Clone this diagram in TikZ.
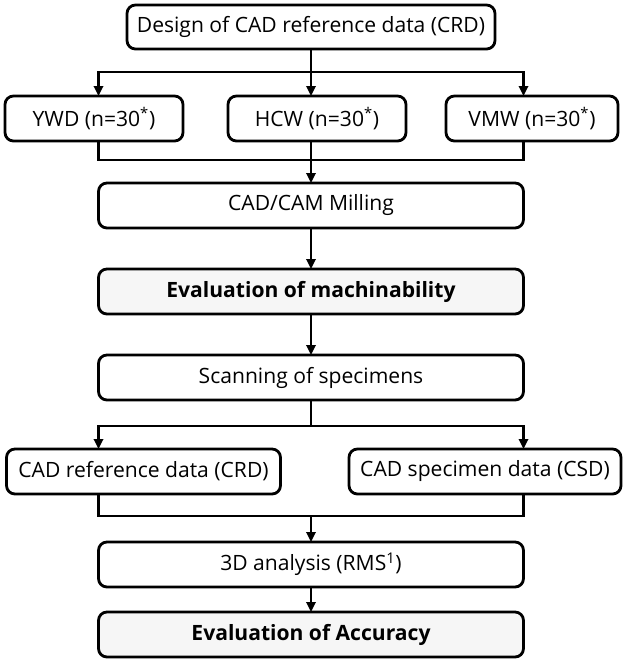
\documentclass[tikz,border=0pt]{standalone}
\usepackage{fontspec}
\setmainfont{Open Sans}
\usepackage{tikz}
\usetikzlibrary{arrows.meta,positioning}
\usepackage{xcolor}

\begin{document}
\begin{tikzpicture}[
    stage/.style={
        rectangle,
        rounded corners=6pt,
        draw=black,
        line width=2pt,
        outer sep=0pt,
        fill=white,
        align=center,
        font=\fontsize{15}{18}\selectfont,
        minimum width=10.625cm,
        minimum height=1.125cm
    },
    group/.style={
        stage,
        minimum width=4.45cm
    },
    source/.style={
        stage,
        minimum width=6.85cm
    },
    result/.style={
        stage,
        fill=gray!7,
        font=\fontsize{15}{18}\selectfont\bfseries
    },
    arrow/.style={-{Triangle[length=2.5mm,width=2.3mm]}, line width=2pt},
    link/.style={line width=2pt}
]

\useasboundingbox (0,0) rectangle (15.575,-16.5);

\node[stage, minimum width=9.2cm, minimum height=1.1cm] (design) at (7.775,-0.675) {Design of CAD reference data (CRD)};

\node[group, below=1.175cm of design, xshift=0.15cm] (hcw) {HCW (n=30\textsuperscript{*})};
\node[group, left=1.125cm of hcw] (ywd) {YWD (n=30\textsuperscript{*})};
\node[group, right=1.0cm of hcw, minimum width=4.3cm] (vmw) {VMW (n=30\textsuperscript{*})};

\node[stage, below=3.35cm of design] (mill) {CAD/CAM Milling};
\node[result, below=1.025cm of mill] (mach) {Evaluation of machinability};
\node[stage, below=1.025cm of mach] (scan) {Scanning of specimens};

\node[source, below=1.225cm of scan, xshift=-4.1875cm] (crd) {CAD reference data (CRD)};
\node[source, below=1.225cm of scan, xshift=4.35cm, minimum width=6.8cm] (csd) {CAD specimen data (CSD)};

\node[stage, below=3.55cm of scan] (rms) {3D analysis (RMS\textsuperscript{1})};
\node[result, below=0.625cm of rms] (acc) {Evaluation of Accuracy};

\coordinate[below=0.575cm of design] (split1);
\coordinate[below=0.475cm of hcw] (join1);
\coordinate[below=0.65cm of scan] (split2);
\coordinate[below=0.55cm of crd] (join2);

% three groups
\draw[arrow] (design.south) -- (split1) -| (mill.west |- ywd.north);
\draw[arrow] (split1) -| (mill.east |- vmw.north);
\draw[arrow] (split1) -- (split1 |- hcw.north);
\draw[link] (ywd.south -| mill.west) -- (join1 -| mill.west) -- (join1 -| mill.east) -- (vmw.south -| mill.east);
\draw[arrow] (split1 |- hcw.south) -- (mill.north);

\draw[arrow] (mill) -- (mach);
\draw[arrow] (mach) -- (scan);

% reference vs specimen
\draw[arrow] (scan.south) -- (split2) -| (scan.west |- crd.north);
\draw[arrow] (split2) -| (scan.east |- csd.north);
\draw[link] (crd.south -| scan.west) -- (join2 -| scan.west) -- (join2 -| scan.east) -- (csd.south -| scan.east);
\draw[arrow] (join2 -| rms.north) -- (rms.north);

\draw[arrow] (rms) -- (acc);

\end{tikzpicture}
\end{document}
